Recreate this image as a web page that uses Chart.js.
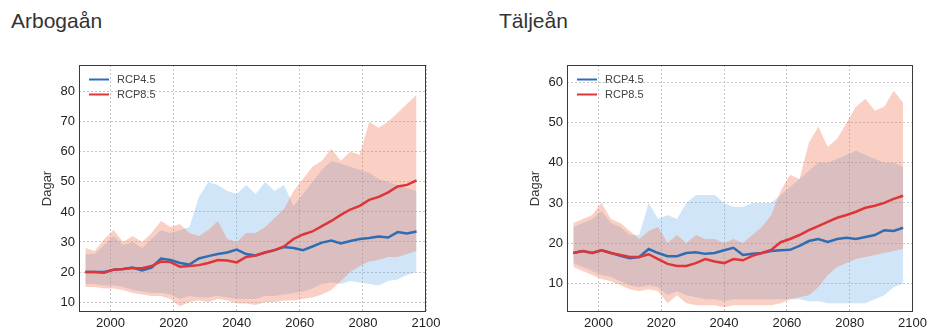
<!DOCTYPE html>
<html>
<head>
<meta charset="utf-8">
<script src="https://cdn.jsdelivr.net/npm/chart.js@4.4.1/dist/chart.umd.min.js"></script>
<style>
  html, body { margin: 0; padding: 0; background: #fff; }
  body { width: 931px; height: 333px; position: relative; overflow: hidden; font-family: "Liberation Sans", Arial, sans-serif; }
  .panel { position: absolute; top: 0; width: 465px; height: 333px; }
  .panel canvas { position: absolute; left: 0; top: 0; }
  .title { position: absolute; top: 10px; font-size: 21px; line-height: 21px; color: #333; white-space: nowrap; }
</style>
</head>
<body>
<div class="panel" style="left:0">
  <div class="title" style="left:11px">Arbogaån</div>
  <canvas id="arboga" width="465" height="333"></canvas>
</div>
<div class="panel" style="left:466px">
  <div class="title" style="left:33px">Täljeån</div>
  <canvas id="talje" width="465" height="333"></canvas>
</div>
<script>
// Years of the running-mean series
const YEARS = [1992, 1995, 1998, 2001, 2004, 2007, 2010, 2013, 2016, 2019,
               2022, 2025, 2028, 2031, 2034, 2037, 2040, 2043, 2046, 2049,
               2052, 2055, 2058, 2061, 2064, 2067, 2070, 2073, 2076, 2079,
               2082, 2085, 2088, 2091, 2094, 2097];

const X_TICKS = [2000, 2020, 2040, 2060, 2080, 2100];
const SERIES_LABELS = ['RCP4.5', 'RCP8.5'];

// Arbogaån – ensemble median and spread (days)
const arbogaRcp45 = [20.0, 20.0, 20.0, 20.8, 21.0, 21.5, 20.5, 21.5, 24.5, 24.0,
                     23.0, 22.5, 24.5, 25.3, 26.0, 26.5, 27.5, 26.0, 25.5, 26.5,
                     27.3, 28.3, 28.0, 27.3, 28.5, 29.8, 30.5, 29.5, 30.3, 31.0,
                     31.3, 31.8, 31.5, 33.3, 32.8, 33.5];
const arbogaRcp85 = [20.0, 20.0, 19.8, 20.8, 21.0, 21.3, 21.3, 22.0, 23.5, 23.3,
                     21.8, 22.0, 22.3, 23.0, 24.0, 23.8, 23.2, 25.0, 25.5, 26.5,
                     27.3, 28.5, 31.0, 32.5, 33.5, 35.3, 37.0, 39.0, 40.8, 42.0,
                     44.0, 45.0, 46.5, 48.5, 49.0, 50.5];
const arbogaRcp45High = [26, 26, 29, 32, 29, 30, 28, 31, 34, 33,
                         34, 35, 45, 50, 49, 47, 46, 49, 46, 50,
                         47, 49, 42, 46, 50, 54, 57, 56, 55, 54,
                         53, 51, 50, 49, 48, 47];
const arbogaRcp45Low = [16, 16, 15.5, 15.5, 15, 14, 13.5, 13, 13, 12.5,
                        11, 12, 11.5, 11.5, 12, 11.5, 11, 11, 11, 12,
                        12, 12.5, 13, 13.5, 14.5, 16, 16.5, 16, 17, 16.5,
                        16, 15.5, 17, 17.5, 19, 20];
const arbogaRcp85High = [28, 27, 31, 34, 30, 32, 30, 33, 37, 35,
                         36, 33, 32, 34, 37, 31, 30, 33, 33, 35,
                         38, 41, 47, 51, 55, 57, 61, 57, 60, 59,
                         70, 68, 70, 73, 76, 79];
const arbogaRcp85Low = [15, 15, 14.5, 14.5, 14, 13, 12.5, 12, 12, 11,
                        8.5, 10, 10.5, 10, 11, 10.5, 9.5, 9.5, 9, 10,
                        10, 10.5, 10.5, 11, 11.5, 12.5, 14, 17, 20, 22,
                        23.5, 24, 25, 25, 26, 27];
const arbogaYTicks = [10, 20, 30, 40, 50, 60, 70, 80];

// Täljeån – ensemble median and spread (days)
const taljeRcp45 = [17.5, 18.0, 17.5, 18.2, 17.5, 16.8, 16.2, 16.5, 18.5, 17.5,
                    16.7, 16.7, 17.5, 17.7, 17.3, 17.5, 18.2, 18.8, 17.0, 17.3,
                    17.5, 18.0, 18.2, 18.3, 19.3, 20.5, 21.0, 20.3, 21.0, 21.3,
                    21.0, 21.5, 22.0, 23.2, 23.0, 23.8];
const taljeRcp85 = [17.5, 18.0, 17.5, 18.2, 17.5, 17.0, 16.5, 16.5, 17.2, 16.0,
                    14.8, 14.3, 14.3, 15.0, 16.0, 15.4, 15.0, 16.0, 15.7, 16.8,
                    17.5, 18.3, 20.2, 21.0, 22.0, 23.2, 24.2, 25.3, 26.3, 27.0,
                    27.8, 28.8, 29.3, 30.0, 31.0, 31.8];
const taljeRcp45High = [24, 25, 26, 28, 25, 24, 22, 22, 30, 26,
                        27, 26, 30, 32, 32, 32, 30, 29, 29, 30,
                        30, 30, 32, 34, 36, 38, 40, 40, 41, 42,
                        43, 42, 41, 40, 40, 39];
const taljeRcp45Low = [15, 14, 13, 12, 11.5, 10.5, 9.5, 9, 9.5, 9,
                       7, 8, 7, 6.5, 6, 6, 5.5, 6, 6, 6,
                       6, 6, 6, 6, 6, 5.5, 5.5, 5, 5, 5,
                       5, 5, 6, 7, 9, 10];
const taljeRcp85High = [25, 26, 27, 30, 26, 25, 23, 21, 23, 24,
                        20, 22, 20, 22, 21, 21, 20, 21, 20, 22,
                        24, 27, 33, 37, 36, 45, 49, 44, 46, 50,
                        54, 56, 53, 54, 58, 55];
const taljeRcp85Low = [14, 13, 12, 11, 10.5, 9.5, 8.5, 8, 8.5, 8,
                       5, 7, 5, 4.5, 4.5, 4.5, 4, 4.5, 4.5, 4.5,
                       4.5, 4.5, 5, 6, 6.5, 7, 9, 12, 14, 15,
                       16, 16.5, 17, 17.5, 18, 18.5];
const taljeYTicks = [10, 20, 30, 40, 50, 60];

const FONT = '"Liberation Sans", Arial, sans-serif';
const BLUE = '#2f6db3';
const RED = '#de3539';
const BLUE_FILL = 'rgba(100, 170, 230, 0.30)';
const RED_FILL = 'rgba(240, 120, 90, 0.35)';

const xy = arr => YEARS.map((yr, i) => ({ x: yr, y: arr[i] }));

// Plot frame plus an in-axes legend in the upper left corner
const frameAndLegend = {
  id: 'frameAndLegend',
  afterDraw(chart) {
    const { ctx, chartArea: a } = chart;
    ctx.save();
    ctx.strokeStyle = '#3a3a3a';
    ctx.lineWidth = 1;
    ctx.strokeRect(Math.round(a.left) + 0.5, Math.round(a.top) + 0.5,
                   Math.round(a.width) - 1, Math.round(a.height) - 1);
    ctx.font = '11px ' + FONT;
    ctx.textBaseline = 'middle';
    ctx.textAlign = 'left';
    chart.data.datasets.filter(d => d.inLegend).forEach((d, i) => {
      const y = a.top + 14.5 + i * 15;
      ctx.strokeStyle = d.borderColor;
      ctx.lineWidth = 2;
      ctx.beginPath();
      ctx.moveTo(a.left + 10, y);
      ctx.lineTo(a.left + 30, y);
      ctx.stroke();
      ctx.fillStyle = '#444';
      ctx.fillText(d.label, a.left + 38, y);
    });
    ctx.restore();
  }
};

function band(data, color, fill, order) {
  return { data: xy(data), borderWidth: 0, pointRadius: 0, backgroundColor: color,
           borderColor: 'transparent', fill: fill, order: order, tension: 0 };
}

function makeChart(id, s) {
  const datasets = [
    { label: SERIES_LABELS[0], inLegend: true, data: xy(s.med45), borderColor: BLUE,
      borderWidth: 2.5, pointRadius: 0, fill: false, order: 1, tension: 0 },
    { label: SERIES_LABELS[1], inLegend: true, data: xy(s.med85), borderColor: RED,
      borderWidth: 2.5, pointRadius: 0, fill: false, order: 0, tension: 0 },
    band(s.hi45, BLUE_FILL, '+1', 4),
    band(s.lo45, BLUE_FILL, false, 5),
    band(s.hi85, RED_FILL, '+1', 2),
    band(s.lo85, RED_FILL, false, 3)
  ];
  const tickFont = { family: FONT, size: 13 };
  return new Chart(document.getElementById(id), {
    type: 'line',
    data: { datasets },
    options: {
      responsive: false,
      animation: false,
      devicePixelRatio: 1,
      layout: { padding: { left: s.padLeft, right: s.padRight, top: 65, bottom: 0 } },
      plugins: { legend: { display: false }, tooltip: { enabled: false } },
      scales: {
        x: {
          type: 'linear', min: 1990, max: 2100,
          afterBuildTicks: sc => { sc.ticks = X_TICKS.map(v => ({ value: v })); },
          afterFit: sc => { sc.height = 21; },
          grid: { color: '#c6c6c6', lineWidth: 1, drawTicks: false },
          border: { display: false, dash: [2, 2] },
          ticks: { color: '#222', font: tickFont, padding: 4, autoSkip: false,
                   maxRotation: 0, callback: v => String(v) }
        },
        y: {
          type: 'linear', min: s.yMin, max: s.yMax,
          afterBuildTicks: sc => { sc.ticks = s.yTicks.map(v => ({ value: v })); },
          afterFit: sc => { sc.width = 39; },
          grid: { color: '#c6c6c6', lineWidth: 1, drawTicks: false },
          border: { display: false, dash: [2, 2] },
          title: { display: true, text: 'Dagar', color: '#333',
                   font: { family: FONT, size: 13 }, padding: 0 },
          ticks: { color: '#222', font: tickFont, padding: 4, autoSkip: false,
                   callback: v => String(v) }
        }
      }
    },
    plugins: [frameAndLegend]
  });
}

makeChart('arboga', {
  med45: arbogaRcp45, med85: arbogaRcp85,
  hi45: arbogaRcp45High, lo45: arbogaRcp45Low,
  hi85: arbogaRcp85High, lo85: arbogaRcp85Low,
  yMin: 6.7, yMax: 88.9, yTicks: arbogaYTicks,
  padLeft: 40, padRight: 39
});

makeChart('talje', {
  med45: taljeRcp45, med85: taljeRcp85,
  hi45: taljeRcp45High, lo45: taljeRcp45Low,
  hi85: taljeRcp85High, lo85: taljeRcp85Low,
  yMin: 2.8, yMax: 64.4, yTicks: taljeYTicks,
  padLeft: 62, padRight: 17
});
</script>
</body>
</html>
